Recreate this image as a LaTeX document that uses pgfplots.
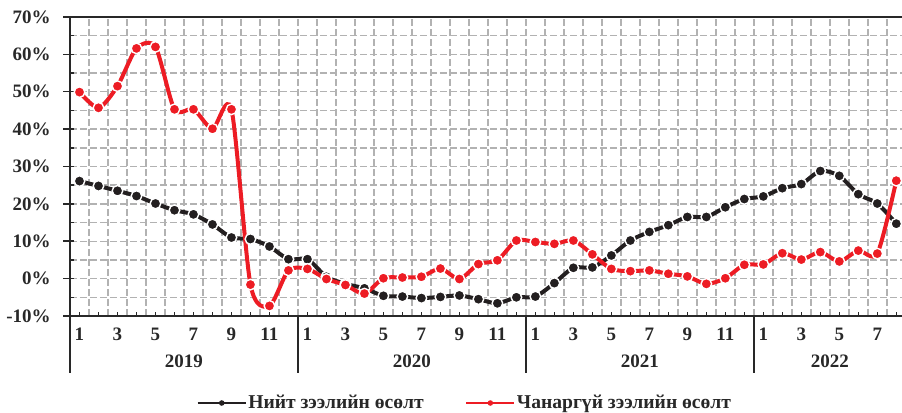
\documentclass[border=0pt]{standalone}
\usepackage{pgfplots}
\pgfplotsset{compat=1.18}
\usepackage{pgfplotstable}
\usepackage{fontspec}
\setmainfont{Liberation Serif}
\definecolor{myred}{RGB}{237,28,36}
\definecolor{myblack}{RGB}{35,31,32}
\definecolor{gridgray}{RGB}{178,178,178}
\definecolor{axisgray}{RGB}{40,40,40}

\pgfplotstableread{
x total bad
0 26.1 49.9
1 24.8 45.7
2 23.5 51.5
3 22.1 61.6
4 20.1 62.0
5 18.3 45.3
6 17.2 45.3
7 14.5 40.1
8 11.0 45.3
9 10.6 -1.6
10 8.6 -7.3
11 5.2 2.2
12 5.2 2.6
13 0.5 -0.1
14 -1.4 -1.7
15 -2.6 -4.0
16 -4.6 0.1
17 -4.8 0.3
18 -5.2 0.5
19 -4.9 2.7
20 -4.5 -0.1
21 -5.5 3.9
22 -6.6 4.9
23 -5.0 10.2
24 -4.8 9.8
25 -1.2 9.3
26 2.9 10.2
27 3.0 6.5
28 6.2 2.6
29 10.2 2.0
30 12.5 2.2
31 14.3 1.3
32 16.5 0.6
33 16.5 -1.4
34 19.1 0.1
35 21.3 3.7
36 22.0 3.8
37 24.2 6.8
38 25.3 5.1
39 28.8 7.1
40 27.5 4.6
41 22.6 7.5
42 20.1 6.7
43 14.7 26.2
}\datatable

\begin{document}
\begin{tikzpicture}
\begin{axis}[
  at={(0,0)}, anchor=south west,
  scale only axis, width=416pt, height=149.5pt,
  xmin=-0.5, xmax=43.3, ymin=-10, ymax=70,
  clip=false,
  axis line style={draw=none},
  xtick pos=bottom, ytick pos=left,
  xtick={0,...,43},
  xticklabels={1,,3,,5,,7,,9,,11,,1,,3,,5,,7,,9,,11,,1,,3,,5,,7,,9,,11,,1,,3,,5,,7,},
  extra x ticks={0.5,1.5,2.5,3.5,4.5,5.5,6.5,7.5,8.5,9.5,10.5,11.5,12.5,13.5,14.5,15.5,16.5,17.5,18.5,19.5,20.5,21.5,22.5,23.5,24.5,25.5,26.5,27.5,28.5,29.5,30.5,31.5,32.5,33.5,34.5,35.5,36.5,37.5,38.5,39.5,40.5,41.5,42.5},
  extra x tick labels={},
  extra x tick style={grid=major, major tick length=0pt,
    major grid style={gridgray, dash pattern=on 3.5pt off 1.5pt, line width=0.7pt}},
  ytick={-10,-5,...,70},
  yticklabels={-10\%,,0\%,,10\%,,20\%,,30\%,,40\%,,50\%,,60\%,,70\%},
  ymajorgrids,
  major grid style={gridgray, dash pattern=on 3.5pt off 1.5pt, line width=0.7pt},
  tick align=inside,
  major tick length=1.9pt, minor tick length=0pt,
  tick style={axisgray, line width=0.75pt},
  every tick label/.append style={font=\fontsize{9.5}{11}\selectfont\bfseries, text=axisgray},
  xticklabel style={inner sep=0pt, anchor=north, yshift=-6pt},
  yticklabel style={inner sep=0pt, anchor=east, xshift=-9.5pt},
  legend columns=2,
  legend style={at={(0.474,-0.291)}, anchor=center, draw=none, fill=none,
    inner sep=0pt, font=\fontsize{9.8}{11}\selectfont\bfseries, text=axisgray,
    nodes={inner sep=0.6pt},
    /tikz/every even column/.append style={column sep=20pt}},
  legend cell align=left,
  legend image code/.code={
    \draw[#1, mark=none, line width=1.35pt] (0pt,0pt) -- (24pt,0pt);
    \fill[#1, draw=none] (12pt,0pt) circle (1.4pt);
  },
]
\addplot[myblack, line width=2pt, smooth, tension=0.45,
  mark=*, mark size=2.65pt, mark options={fill=myblack, draw=white, line width=0.7pt}]
  table[x=x, y=total] {\datatable};
\addlegendentry{Нийт зээлийн өсөлт}
\addplot[myred, line width=2pt, smooth, tension=0.45,
  mark=*, mark size=2.65pt, mark options={fill=myred, draw=white, line width=0.7pt}]
  table[x=x, y=bad] {\datatable};
\addlegendentry{Чанаргүй зээлийн өсөлт}

\draw[axisgray, line width=0.9pt] (rel axis cs:0,1) -- (rel axis cs:1,1);
\draw[axisgray, line width=0.9pt] (rel axis cs:0,0) -- (rel axis cs:1,0);
\draw[axisgray, line width=0.9pt] (rel axis cs:0,1) -- (rel axis cs:0,0) -- ([yshift=-28.5pt]rel axis cs:0,0);
\pgfplotsinvokeforeach{-10,0,10,20,30,40,50,60,70}{
  \draw[axisgray, line width=0.75pt] (axis cs:-0.5,#1) -- ([xshift=-3.6pt]axis cs:-0.5,#1);
}
\pgfplotsinvokeforeach{11.5,23.5,35.5}{
  \draw[axisgray, line width=0.9pt] (axis cs:#1,-10) -- ([yshift=-28.5pt]axis cs:#1,-10);
}
\node[anchor=base, font=\fontsize{9.5}{11}\selectfont\bfseries, text=axisgray, yshift=-26pt] at (axis cs:5.5,-10) {2019};
\node[anchor=base, font=\fontsize{9.5}{11}\selectfont\bfseries, text=axisgray, yshift=-26pt] at (axis cs:17.5,-10) {2020};
\node[anchor=base, font=\fontsize{9.5}{11}\selectfont\bfseries, text=axisgray, yshift=-26pt] at (axis cs:29.5,-10) {2021};
\node[anchor=base, font=\fontsize{9.5}{11}\selectfont\bfseries, text=axisgray, yshift=-26pt] at (axis cs:39.5,-10) {2022};
\end{axis}
\pgfresetboundingbox
\path (-35pt,-48.5pt) rectangle (416pt,158pt);
\end{tikzpicture}
\end{document}
